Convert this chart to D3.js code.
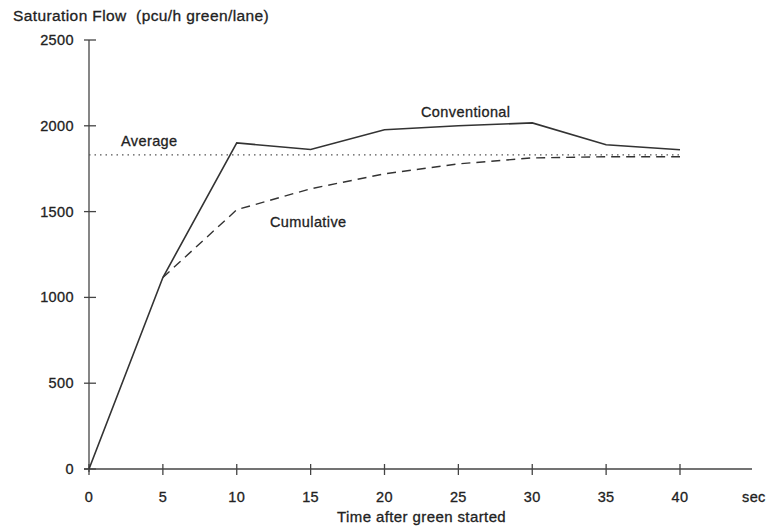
<!DOCTYPE html>
<html>
<head>
<meta charset="utf-8">
<style>
  body { margin: 0; background: #fff; }
  text { font-family: "Liberation Sans", Arial, sans-serif; fill: #222; stroke: #222; stroke-width: 0.3; letter-spacing: 0.4px; white-space: pre; }
</style>
</head>
<body>
<svg width="769" height="529"></svg>
<script src="https://d3js.org/d3.v7.min.js"></script>
<script>

var times = [0, 5, 10, 15, 20, 25, 30, 35, 40],
    conventional = [0, 1116, 1900, 1862, 1977, 2000, 2017, 1890, 1860],
    cumulativeTimes = [5, 10, 15, 20, 25, 30, 35, 40],
    cumulative = [1116, 1511, 1633, 1720, 1778, 1813, 1820, 1820],
    average = 1830,
    xTicks = [0, 5, 10, 15, 20, 25, 30, 35, 40],
    yTicks = [0, 500, 1000, 1500, 2000, 2500];

var svg = d3.select("svg");

var x = d3.scaleLinear().domain([0, 40]).range([89, 680]),
    y = d3.scaleLinear().domain([0, 2500]).range([469, 40]);

var ink = "#444",
    fs = 14.5;

// axes
svg.append("line")
    .attr("x1", 84).attr("x2", 752)
    .attr("y1", y(0)).attr("y2", y(0))
    .attr("stroke", ink).attr("stroke-width", 1.3);
svg.append("line")
    .attr("x1", x(0)).attr("x2", x(0))
    .attr("y1", y(0) + 3).attr("y2", y(2500))
    .attr("stroke", ink).attr("stroke-width", 1.3);

svg.selectAll(".xtick").data(xTicks).enter().append("line")
    .attr("x1", function(d) { return x(d); }).attr("x2", function(d) { return x(d); })
    .attr("y1", y(0) - 5).attr("y2", y(0) + 6)
    .attr("stroke", ink).attr("stroke-width", 1.3);

svg.selectAll(".ytick").data(yTicks).enter().append("line")
    .attr("x1", 84).attr("x2", 96)
    .attr("y1", function(d) { return y(d); }).attr("y2", function(d) { return y(d); })
    .attr("stroke", ink).attr("stroke-width", 1.3);

svg.selectAll(".xlabel").data(xTicks).enter().append("text")
    .attr("x", function(d) { return x(d); })
    .attr("y", 502)
    .attr("text-anchor", "middle")
    .attr("font-size", fs)
    .text(function(d) { return d; });

svg.selectAll(".ylabel").data(yTicks).enter().append("text")
    .attr("x", 74)
    .attr("y", function(d) { return y(d) + 5; })
    .attr("text-anchor", "end")
    .attr("font-size", fs)
    .text(function(d) { return d; });

// series
var line = d3.line()
    .x(function(d) { return x(d[0]); })
    .y(function(d) { return y(d[1]); });

svg.append("path")
    .datum(times.map(function(t, i) { return [t, conventional[i]]; }))
    .attr("d", line)
    .attr("fill", "none").attr("stroke", "#333").attr("stroke-width", 1.6);

svg.append("path")
    .datum(cumulativeTimes.map(function(t, i) { return [t, cumulative[i]]; }))
    .attr("d", line)
    .attr("fill", "none").attr("stroke", "#333").attr("stroke-width", 1.4)
    .attr("stroke-dasharray", "9,6");

svg.append("path")
    .datum([[0, average], [40, average]])
    .attr("d", line)
    .attr("fill", "none").attr("stroke", "#555").attr("stroke-width", 1.2)
    .attr("stroke-dasharray", "1.5,4");

// labels
svg.append("text").attr("x", 13).attr("y", 21).attr("font-size", 15.5)
    .text("Saturation Flow  (pcu/h green/lane)");
svg.append("text").attr("x", 121).attr("y", 146).attr("font-size", fs).text("Average");
svg.append("text").attr("x", 421).attr("y", 117).attr("font-size", fs).text("Conventional");
svg.append("text").attr("x", 270).attr("y", 227).attr("font-size", fs).text("Cumulative");
svg.append("text").attr("x", 742).attr("y", 502).attr("font-size", fs).text("sec");
svg.append("text").attr("x", 337).attr("y", 522).attr("font-size", 15)
    .text("Time after green started");

</script>
</body>
</html>
